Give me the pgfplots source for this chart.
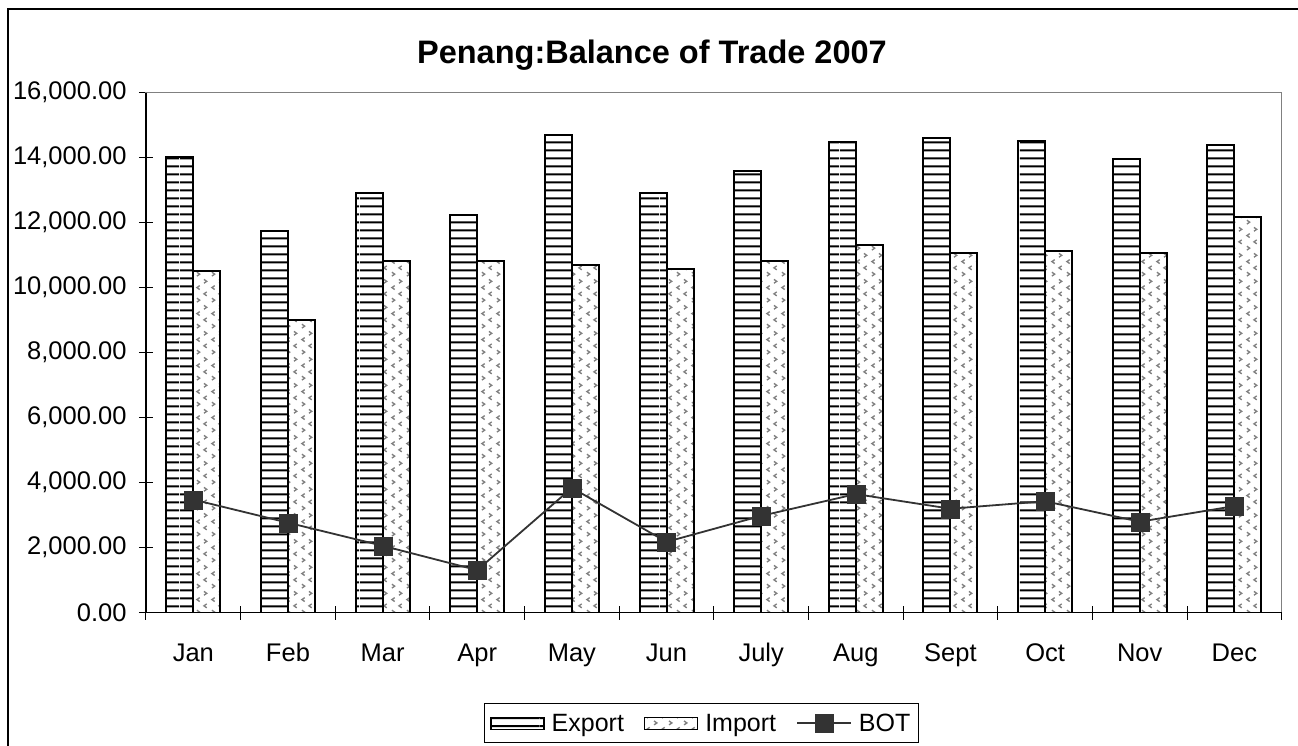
\documentclass[border=0pt]{standalone}
\usepackage{fontspec}
\setmainfont{Liberation Sans}
\usepackage{pgfplots}
\pgfplotsset{compat=1.18}
\usetikzlibrary{patterns.meta}

\tikzdeclarepattern{
  name=explines,
  type=uncolored,
  bounding box={(0pt,0pt) and (60pt,8pt)},
  tile size={(60pt,8pt)},
  code={\fill (0pt,3pt) rectangle (60pt,5.2pt);}
}
\tikzdeclarepattern{
  name=impmarks,
  type=uncolored,
  bounding box={(0pt,0pt) and (15pt,26pt)},
  tile size={(15pt,26pt)},
  code={\draw[line width=1.4pt] (2pt,2pt) -- (5pt,4pt) -- (2pt,6pt);
        \draw[line width=1.4pt] (12.5pt,8.5pt) -- (9.5pt,10.5pt) -- (12.5pt,12.5pt);
        \draw[line width=1.4pt] (5pt,15pt) -- (2pt,17pt) -- (5pt,19pt);
        \draw[line width=1.4pt] (9.5pt,21.5pt) -- (12.5pt,23.5pt) -- (9.5pt,25.5pt);}
}

\definecolor{botc}{HTML}{333333}

\pgfplotsset{
  barleg/.style={legend image code/.code={\draw[##1,line width=1.3pt] (0pt,-6pt) rectangle (53pt,6pt);}},
  botleg/.style={legend image code/.code={\draw[mark repeat=2,mark phase=2,##1] plot coordinates {(0pt,0pt) (27pt,0pt) (54pt,0pt)};}},
}

\begin{document}
\begin{tikzpicture}
\begin{axis}[
  at={(146pt,-612.7pt)}, anchor=south west,
  scale only axis, width=1135.7pt, height=520pt,
  xmin=-0.5, xmax=11.5, ymin=0, ymax=16000,
  xtick={0,...,11},
  xticklabels={Jan,Feb,Mar,Apr,May,Jun,July,Aug,Sept,Oct,Nov,Dec},
  major x tick style={draw=none},
  minor xtick={-0.5,0.5,...,11.5},
  ytick={0,2000,...,16000},
  xtick pos=bottom, ytick pos=left,
  tick align=center, major tick length=14pt, minor tick length=14pt,
  every tick/.style={black, line width=1pt},
  axis line style={draw=gray, line width=1.3pt},
  scaled y ticks=false,
  yticklabel={\pgfmathprintnumber[fixed,fixed zerofill,precision=2,1000 sep={,},assume math mode=true]{\tick}},
  ticklabel style={font=\fontsize{25.5}{30}\selectfont},
  yticklabel style={xshift=-9pt},
  xticklabel style={anchor=north, yshift=-20pt, text height=18.5pt, text depth=5.5pt},
  title={Penang:Balance of Trade 2007},
  title style={font=\fontsize{32.5}{39}\selectfont\bfseries, at={(0.4455,1.078)}, anchor=center, yshift=-9pt},
  legend columns=3,
  legend style={at={(0.489,-0.1737)}, anchor=north, draw=black, line width=1.3pt,
    font=\fontsize{25}{30}\selectfont, inner xsep=6pt, inner ysep=8pt,
    /tikz/every odd column/.append style={column sep=5pt},
    /tikz/every even column/.append style={column sep=18pt}},
  extra description/.code={\draw[black,line width=1.3pt] (0,1) -- (0,0) -- (1,0);},
]
\addplot[ybar, bar width=27pt, bar shift=-13.5pt, draw=black, line width=2pt,
  pattern=explines, pattern color=black, barleg]
  coordinates {(0,14030) (1,11750) (2,12920) (3,12240) (4,14700) (5,12920)
               (6,13590) (7,14490) (8,14600) (9,14500) (10,13960) (11,14390)};
\addlegendentry{Export}
\addplot[ybar, bar width=27pt, bar shift=13.5pt, draw=black, line width=2pt,
  pattern=impmarks, pattern color=gray, barleg]
  coordinates {(0,10520) (1,9000) (2,10830) (3,10830) (4,10700) (5,10580)
               (6,10830) (7,11310) (8,11080) (9,11140) (10,11080) (11,12180)};
\addlegendentry{Import}
\addplot[color=botc, line width=1.8pt, mark=square*, mark size=9pt,
  mark options={fill=botc, draw=botc, line width=0.1pt}, botleg]
  coordinates {(0,3480) (1,2770) (2,2060) (3,1310) (4,3840) (5,2180)
               (6,2980) (7,3650) (8,3200) (9,3430) (10,2800) (11,3280)};
\addlegendentry{BOT}
\end{axis}
\pgfresetboundingbox
\useasboundingbox (0pt,0pt) rectangle (1298pt,-745pt);
\draw[line width=2.3pt] (8pt,-9pt) rectangle (1330pt,-780pt);
\end{tikzpicture}
\end{document}
